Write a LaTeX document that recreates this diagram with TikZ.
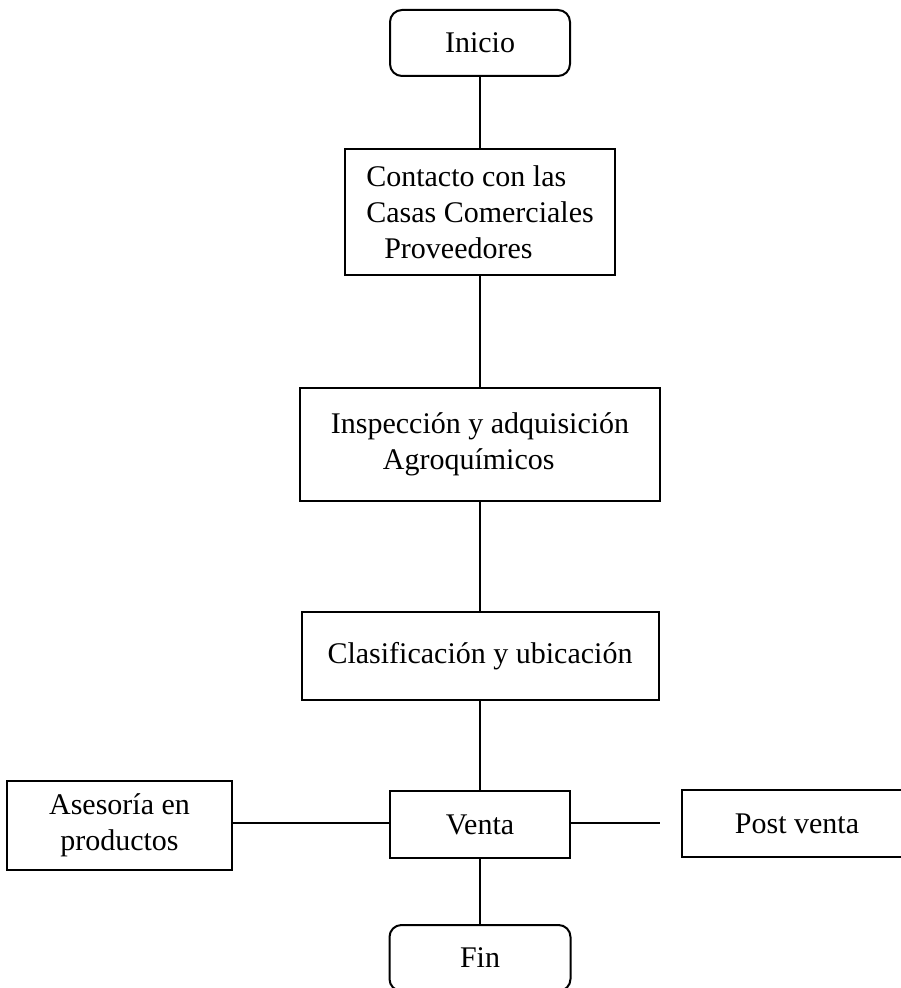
\documentclass[tikz,border=0pt]{standalone}
\usepackage{fontspec}
\setmainfont{Liberation Serif}
\usetikzlibrary{positioning}

\tikzset{
  box/.style={draw, line width=1pt, inner sep=0pt, font=\fontsize{15}{18}\selectfont},
  terminal/.style={box, rounded corners=6pt},
  link/.style={line width=1pt}
}

\begin{document}
\begin{tikzpicture}[x=0.5pt, y=-0.5pt]
      \useasboundingbox (0,0) rectangle (900,988);

      % --- Main column ---
      \node[terminal, minimum width=90pt, minimum height=33pt] (inicio) at (480, 43) {Inicio};
      \node[box, minimum width=135pt, minimum height=63pt, align=left] (contacto) at (480, 212)
            {Contacto con las\\Casas Comerciales\\\hspace*{9pt}Proveedores};
      \node[box, minimum width=180pt, minimum height=56.5pt, align=left] (inspeccion) at (480, 444.5)
            {Inspección y adquisición\\\hspace*{26pt}Agroquímicos};
      \node[box, minimum width=178.5pt, minimum height=44pt] (clasificacion) at (480, 656)
            {Clasificación y ubicación};
      \node[box, line width=1.4pt, minimum width=90pt, minimum height=33.5pt] (venta) at (480, 824.5) {Venta};
      \node[terminal, minimum width=90.5pt, minimum height=33pt] (fin) at (480, 958) {Fin};

      % --- Side boxes ---
      \node[box, minimum width=112.5pt, minimum height=44.5pt, align=center] (asesoria) at (119.5, 825.5)
            {Asesoría en\\productos};
      \node[box, minimum width=115pt, minimum height=33.5pt] (postventa) at (797, 823.5) {Post venta};
      % the right connector stops short of its box
      \coordinate (postend) at (660, 823);

      % --- Connectors ---
      \draw[link] (inicio) -- (contacto);
      \draw[link] (contacto) -- (inspeccion);
      \draw[link] (inspeccion) -- (clasificacion);
      \draw[link] (clasificacion) -- (venta);
      \draw[link] (venta) -- (fin);
      \draw[link] (venta.west |- postend) -- (asesoria.east |- postend);
      \draw[link] (venta.east |- postend) -- (postend);
\end{tikzpicture}
\end{document}
